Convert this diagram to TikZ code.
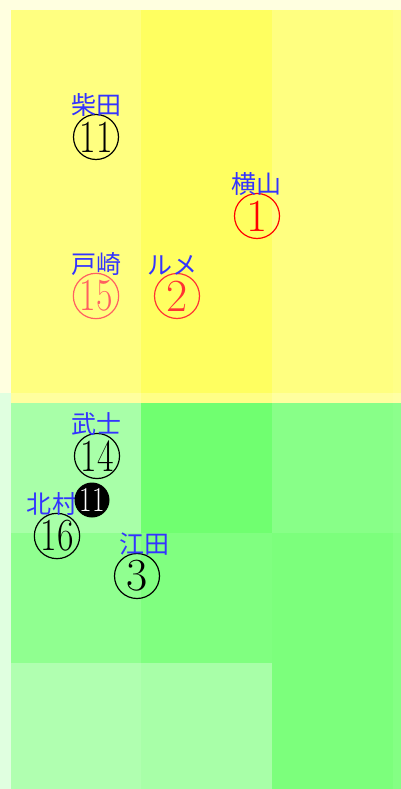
\documentclass[tikz,border=0pt]{standalone}
\usepackage{fontspec}
\usepackage{xcolor}
\usetikzlibrary{positioning}
\newfontfamily\cjk{Noto Sans CJK JP}
\definecolor{bgyellow}{HTML}{FFFFE0}
\definecolor{bggreen}{HTML}{E0FFE0}
\definecolor{namecol}{HTML}{3333FF}
\definecolor{redA}{HTML}{FF0000}
\definecolor{redB}{HTML}{FF3333}
\definecolor{redC}{HTML}{FF6060}
\newcommand{\twodig}[1]{\scalebox{0.78}[1]{#1}}
\tikzstyle{numcirc} = [circle, draw, line width=1.2pt, minimum size=45pt, inner sep=0pt, font=\fontsize{46}{46}\selectfont]
\tikzstyle{negcirc} = [circle, fill=black, text=white, minimum size=35pt, inner sep=0pt, font=\fontsize{35}{35}\selectfont]
\tikzstyle{jockey} = [text=namecol, inner sep=0pt, font=\cjk\fontsize{25}{25}\selectfont]

\begin{document}
\begin{tikzpicture}[x=1pt, y=-1pt]
    \useasboundingbox (0,0) rectangle (401,789);
    % Backgrounds
    \fill [bgyellow] (0,0) rectangle (401,393);
    \fill [bggreen] (0,393) rectangle (401,789);
    % Yellow cells
    \fill [color={rgb,255:red,255;green,255;blue,128}] (11,10) rectangle (141,403);
    \fill [color={rgb,255:red,255;green,255;blue,96}] (141,10) rectangle (272,403);
    \fill [color={rgb,255:red,255;green,255;blue,128}] (272,10) rectangle (393,403);
    \fill [color={rgb,255:red,255;green,255;blue,136}] (393,10) rectangle (401,403);
    \fill [white, opacity=0.25] (11,393) rectangle (401,403);
    % Green cells
    \fill [color={rgb,255:red,168;green,255;blue,168}] (11,403) rectangle (141,533);
    \fill [color={rgb,255:red,112;green,255;blue,112}] (141,403) rectangle (272,533);
    \fill [color={rgb,255:red,136;green,255;blue,136}] (272,403) rectangle (393,533);
    \fill [color={rgb,255:red,140;green,255;blue,140}] (393,403) rectangle (401,533);
    \fill [color={rgb,255:red,144;green,255;blue,144}] (11,533) rectangle (141,663);
    \fill [color={rgb,255:red,128;green,255;blue,128}] (141,533) rectangle (272,663);
    \fill [color={rgb,255:red,124;green,255;blue,124}] (272,533) rectangle (393,789);
    \fill [color={rgb,255:red,132;green,255;blue,132}] (393,533) rectangle (401,789);
    \fill [color={rgb,255:red,176;green,255;blue,176}] (11,663) rectangle (141,789);
    \fill [color={rgb,255:red,168;green,255;blue,168}] (141,663) rectangle (272,789);
    % Place nodes
    \node [numcirc] (shibata) at (96,137) {\twodig{11}};
    \node [jockey, above=-3pt of shibata] (shibataL) {柴田};
    \node [numcirc, draw=redA, text=redA] (yokoyama) at (257,216) {1};
    \node [jockey, above=-3pt of yokoyama, xshift=-1pt] (yokoyamaL) {横山};
    \node [numcirc, draw=redC, text=redC] (tosaki) at (96,296) {\twodig{15}};
    \node [jockey, above=-3pt of tosaki] (tosakiL) {戸崎};
    \node [numcirc, draw=redB, text=redB] (lemaire) at (177,296) {2};
    \node [jockey, above=-3pt of lemaire, xshift=-5pt] (lemaireL) {ルメ};
    \node [numcirc] (bushi) at (97,456) {\twodig{14}};
    \node [jockey, above=-3pt of bushi, xshift=-1pt] (bushiL) {武士};
    \node [numcirc] (kitamura) at (57,536) {\twodig{16}};
    \node [jockey, above=-3pt of kitamura, xshift=-5pt] (kitamuraL) {北村};
    \node [negcirc] (extra) at (92,500) {\twodig{11}};
    \node [numcirc] (eda) at (137,576) {3};
    \node [jockey, above=-3pt of eda, xshift=7pt] (edaL) {江田};
\end{tikzpicture}
\end{document}
